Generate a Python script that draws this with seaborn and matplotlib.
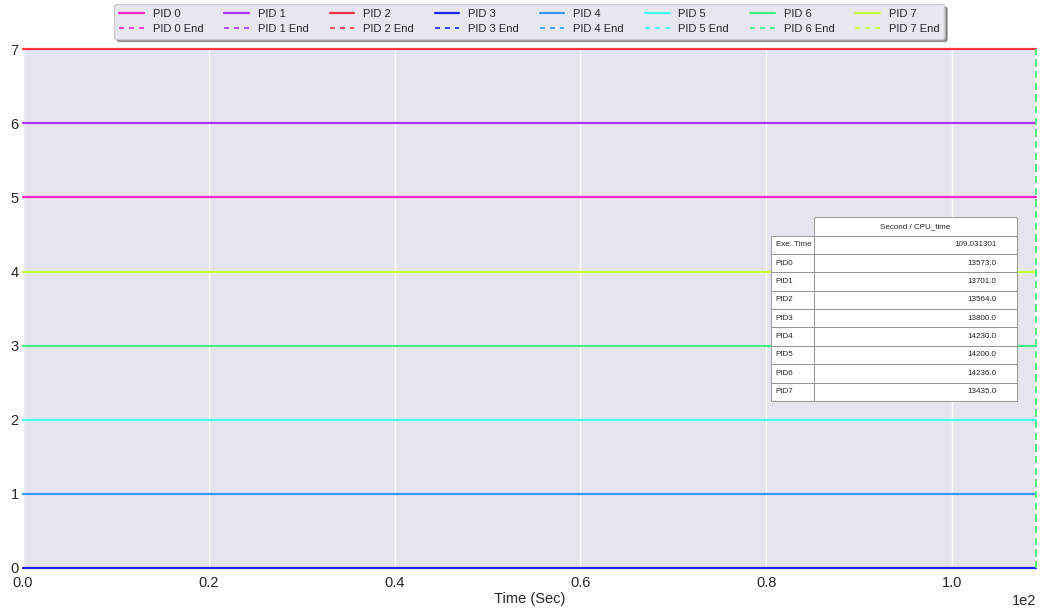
import numpy as np
import pandas as pd
import seaborn as sns
import matplotlib.pyplot as plt
from matplotlib.lines import Line2D

# Per-process timeline data
pid_names = ["PID 0", "PID 1", "PID 2", "PID 3", "PID 4", "PID 5", "PID 6", "PID 7"]
pid_levels = [5, 6, 7, 0, 1, 2, 3, 4]
pid_colors = ["#ff22cc", "#a933ff", "#ff3344", "#2222ff",
              "#3399ff", "#44ffee", "#44ee88", "#ccff33"]
start_time = 0.0
end_time = 109.031301

# Summary table
table_rows = ["Exe. Time", "PID0", "PID1", "PID2", "PID3", "PID4", "PID5", "PID6", "PID7"]
table_values = ["109.031301", "13573.0", "13701.0", "13564.0", "13800.0",
                "14230.0", "14200.0", "14236.0", "13435.0"]
table_header = "Second / CPU_time"

sns.set_theme(style="darkgrid")
plt.rcParams["font.family"] = ["Liberation Sans", "DejaVu Sans"]
plt.rcParams["axes.facecolor"] = "#e6e5ef"

fig, ax = plt.subplots(figsize=(10.4, 6.08), dpi=100)
fig.subplots_adjust(left=0.022, right=0.996, top=0.919, bottom=0.066)

rows = []
for name, lvl in zip(pid_names, pid_levels):
    rows.append({"Time": start_time, "Level": lvl, "PID": name})
    rows.append({"Time": end_time, "Level": lvl, "PID": name})
df = pd.DataFrame(rows)

sns.lineplot(data=df, x="Time", y="Level", hue="PID", hue_order=pid_names,
             palette=pid_colors, estimator=None, linewidth=1.6, legend=False,
             ax=ax, zorder=3)
for ln in ax.get_lines():
    ln.set_clip_on(False)

# End markers for each process
for i, c in enumerate(pid_colors):
    ax.axvline(end_time, color=c, ls=(0, (4, 3)), lw=1.2,
               zorder=4 if i == 6 else 3, clip_on=False)

ax.set_xlim(start_time, end_time)
ax.set_ylim(0, 7)
ax.set_yticks(range(0, 8))
ax.set_xticks(np.arange(0, 101, 20))
ax.ticklabel_format(axis="x", style="sci", scilimits=(0, 0))
ax.tick_params(labelsize=10.5, length=0)
ax.tick_params(axis="y", pad=3)
ax.tick_params(axis="x", pad=6)
ax.xaxis.get_offset_text().set_fontsize(10.5)
ax.set_xlabel("Time (Sec)", fontsize=10.5, labelpad=1)
ax.set_ylabel("")

# Legend: solid line and dashed end marker per process
handles, labels = [], []
for name, c in zip(pid_names, pid_colors):
    handles.append(Line2D([0], [0], color=c, lw=1.6))
    labels.append(name)
    handles.append(Line2D([0], [0], color=c, lw=1.2, ls=(0, (3, 3))))
    labels.append(name + " End")
leg = ax.legend(handles, labels, ncol=8, loc="lower center",
                bbox_to_anchor=(0.5, 1.0), borderaxespad=0.95, fontsize=8,
                handlelength=2.2, handletextpad=0.8, columnspacing=1.9,
                frameon=True, shadow=True, fancybox=True, labelspacing=0.4,
                borderpad=0.45)
leg.get_frame().set_facecolor("#e8e7f0")
leg.get_frame().set_edgecolor("#cccccc")
leg.get_frame().set_alpha(1)

# Table of execution stats
cell_text = [[r, v] for r, v in zip(table_rows, table_values)]
tbl = ax.table(cellText=cell_text, colLabels=["", table_header],
               colWidths=[43 / 245, 202 / 245], cellLoc="right",
               bbox=[0.739, 0.322, 0.242, 0.354], zorder=6)
tbl.auto_set_font_size(False)
tbl.set_fontsize(5.8)
for (r, c), cell in tbl.get_celld().items():
    cell.set_edgecolor("#8a8a8a")
    cell.set_linewidth(0.6)
    cell.set_facecolor("white")
    if c == 0:
        cell.get_text().set_ha("left")
        cell._loc = "left"
    if r == 0:
        cell._loc = "center"
        cell.get_text().set_ha("center")
        if c == 0:
            cell.visible_edges = ""
            cell.set_facecolor("none")

fig.savefig("out.png", dpi=100)
